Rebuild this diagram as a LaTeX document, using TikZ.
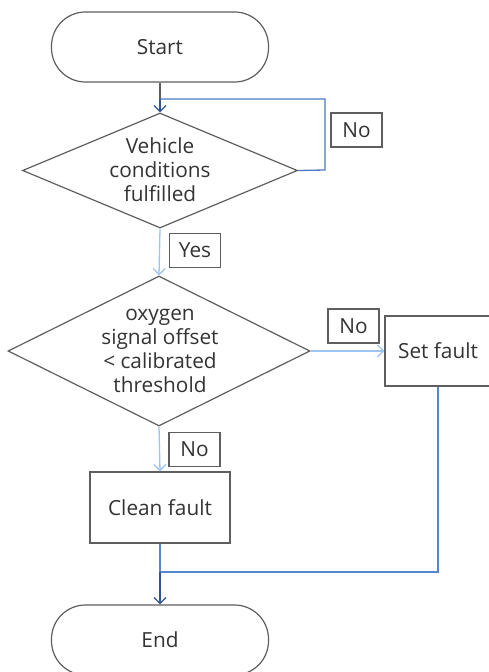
\documentclass[tikz,border=0pt]{standalone}
\usepackage{fontspec}
\setmainfont{Open Sans}
\usetikzlibrary{shapes.geometric,arrows.meta}
\definecolor{txt}{HTML}{333333}
\definecolor{bord}{HTML}{5E5E5E}
\definecolor{loopc}{HTML}{4A78C2}
\definecolor{lightc}{HTML}{9CC3F2}
\definecolor{mergec}{HTML}{5687CC}
\definecolor{darkc}{HTML}{2F5597}
\begin{document}
\begin{tikzpicture}[x=1pt,y=-1pt,
  every node/.style={font=\fontsize{20.8}{24}\selectfont, text=txt, inner sep=0pt},
  term/.style={draw=bord, line width=1.2pt, rounded corners=34pt, minimum width=217pt, minimum height=70pt},
  decis/.style={draw=bord, line width=1.2pt, diamond},
  procbox/.style={draw=bord, line width=1.2pt, minimum width=140pt, minimum height=71pt},
  lbl/.style={draw=bord, line width=1.1pt, minimum width=51pt, minimum height=34pt, fill=white},
  tip/.style={-{Straight Barb[length=6pt,width=12pt,line width=1.3pt]}},
  conn/.style={line width=1.3pt}
]
\useasboundingbox (0,0) rectangle (488,672);

% nodes
\node[term] (start) at (160,47) {Start};
\node[decis, minimum width=275pt, minimum height=115pt] (d1) at (160,170.5) {};
\node[align=center] (d1t) at (160,170) {Vehicle\\conditions\\fulfilled};
\node[decis, minimum width=302pt, minimum height=150pt] (d2) at (159,351) {};
\node[align=center] (d2t) at (160,351) {oxygen\\signal offset\\< calibrated\\threshold};
\node[procbox, minimum width=106pt, minimum height=70pt] (setf) at (438,351) {Set fault};
\node[procbox] (clean) at (160,507.5) {Clean fault};
\node[term] (endn) at (160,640) {End};

% junctions
\coordinate (j1) at (160,99);
\coordinate (l1) at (325,99);
\coordinate (l2) at (325,170);
\coordinate (j2) at (160,572);
\coordinate (s2) at (438,572);

% connectors
\draw[conn, draw=bord] (start.south) -- (j1);
\draw[conn, draw=loopc] (d1.east) -- (l2) -- (l1) -- (j1);
\draw[conn, draw=darkc, tip] (j1) -- (d1.north);
\draw[conn, draw=lightc, tip] (d1.south) -- (d2.north);
\draw[conn, draw=lightc, tip] (d2.east) -- (setf.west);
\draw[conn, draw=lightc, tip] (d2.south) -- (clean.north);
\draw[conn, draw=mergec] (setf.south) -- (s2) -- (j2);
\draw[conn, draw=mergec] (clean.south) -- (j2);
\draw[conn, draw=darkc, tip] (j2) -- (endn.north);

% labels
\node[lbl] (no1) at (356.5,130) {No};
\node[lbl] (yes) at (195,250.5) {Yes};
\node[lbl] (no2) at (353.5,326) {No};
\node[lbl] (no3) at (194.5,449.5) {No};
\end{tikzpicture}
\end{document}
